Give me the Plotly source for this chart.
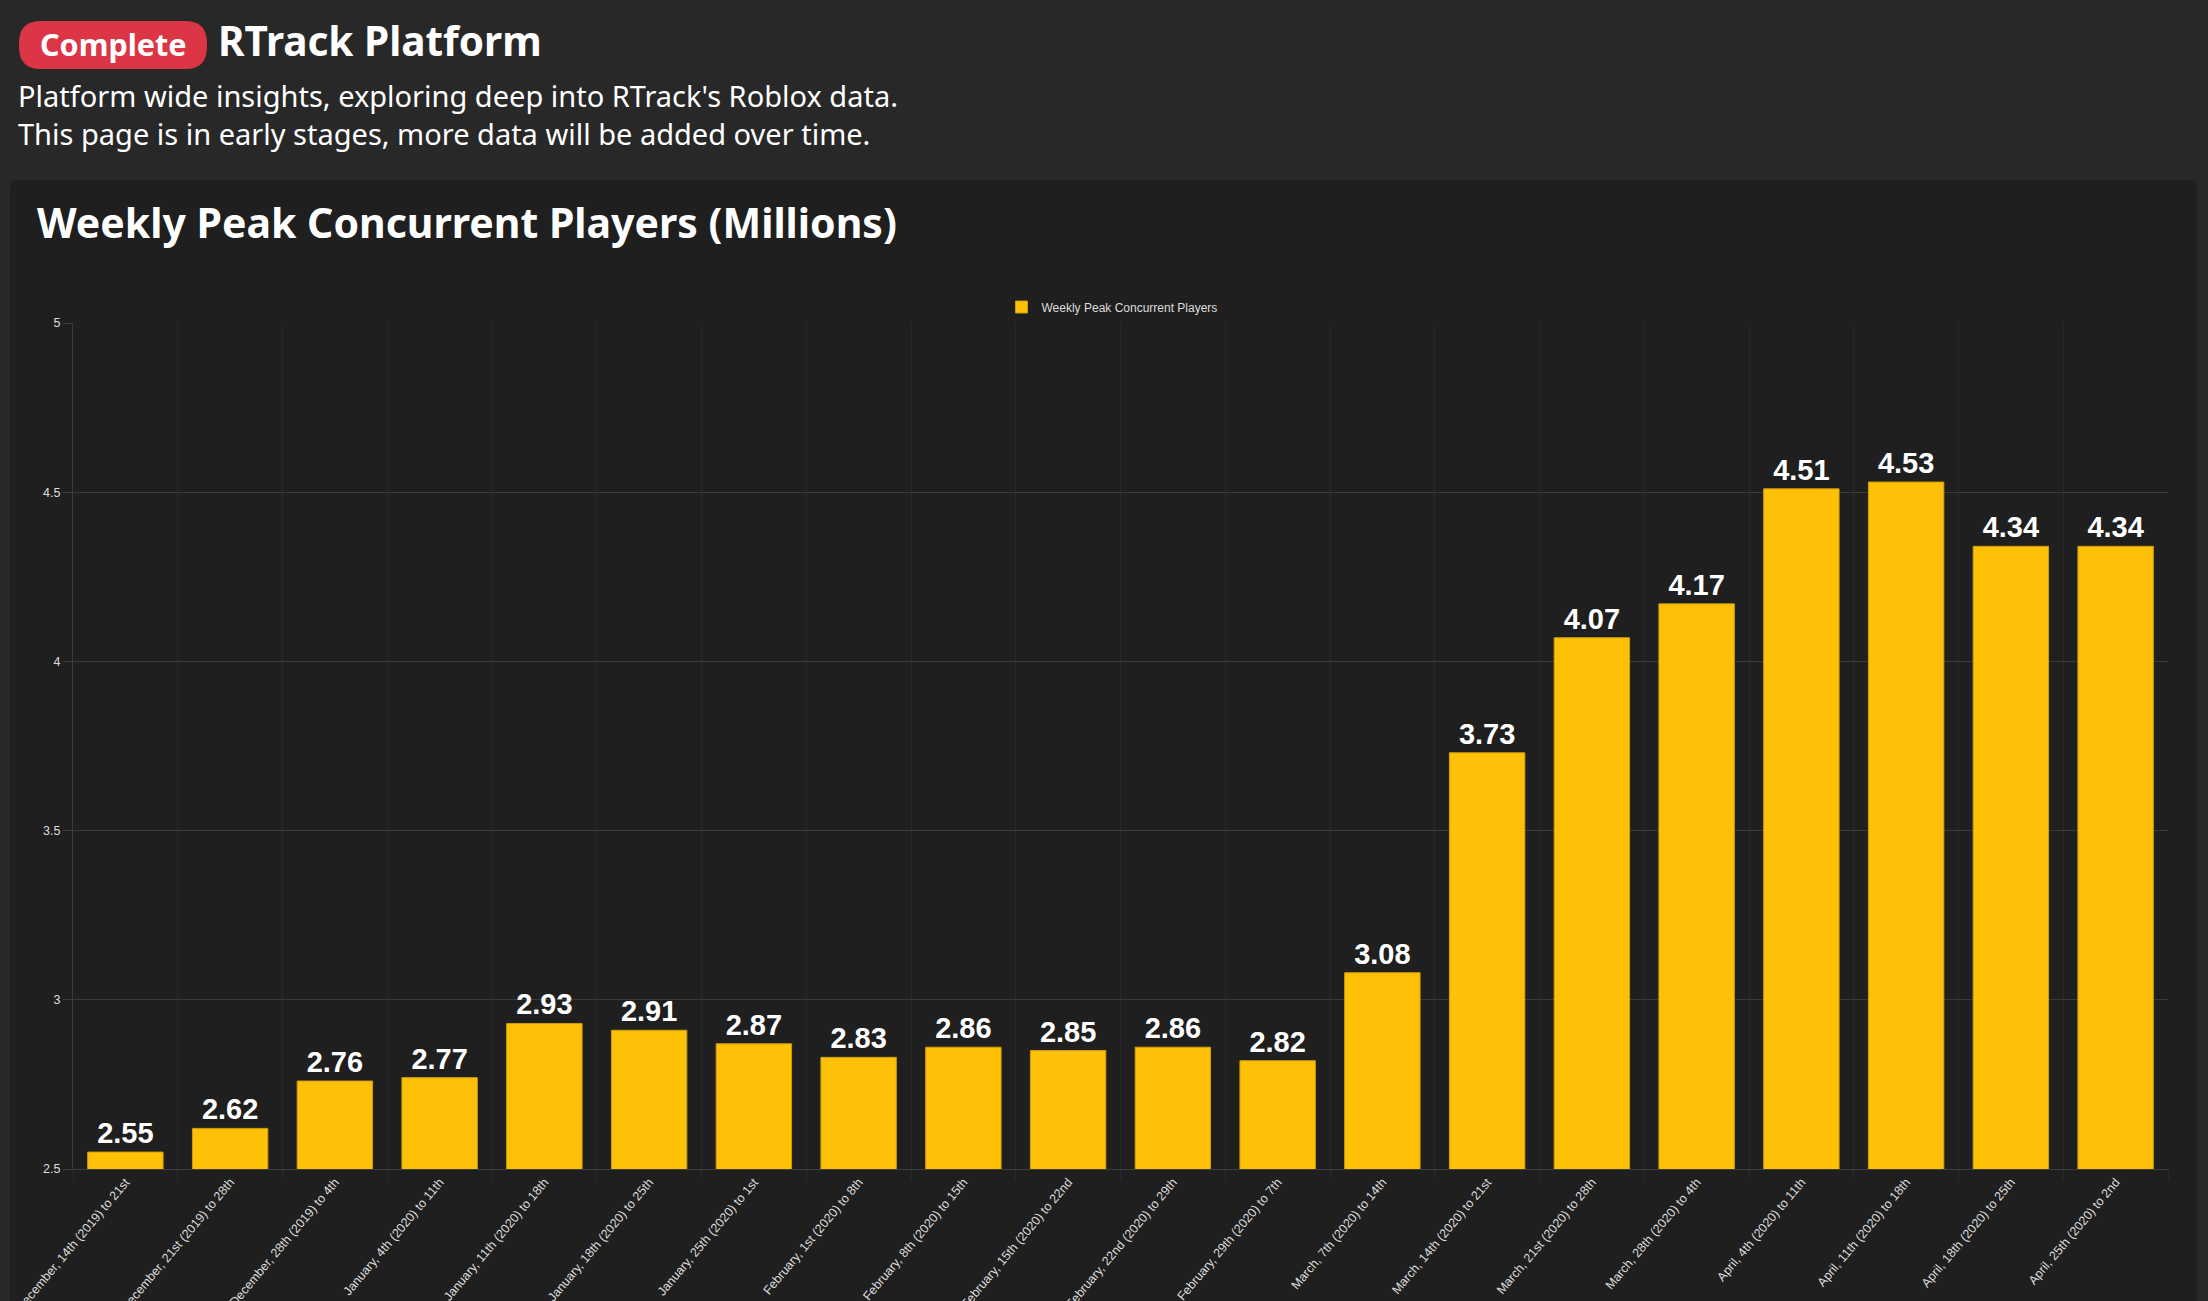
import plotly.graph_objects as go

# ---------------- data ----------------
weeks = [
    "December, 14th (2019) to 21st",
    "December, 21st (2019) to 28th",
    "December, 28th (2019) to 4th",
    "January, 4th (2020) to 11th",
    "January, 11th (2020) to 18th",
    "January, 18th (2020) to 25th",
    "January, 25th (2020) to 1st",
    "February, 1st (2020) to 8th",
    "February, 8th (2020) to 15th",
    "February, 15th (2020) to 22nd",
    "February, 22nd (2020) to 29th",
    "February, 29th (2020) to 7th",
    "March, 7th (2020) to 14th",
    "March, 14th (2020) to 21st",
    "March, 21st (2020) to 28th",
    "March, 28th (2020) to 4th",
    "April, 4th (2020) to 11th",
    "April, 11th (2020) to 18th",
    "April, 18th (2020) to 25th",
    "April, 25th (2020) to 2nd",
]
peak_players = [2.55, 2.62, 2.76, 2.77, 2.93, 2.91, 2.87, 2.83, 2.86, 2.85,
                2.86, 2.82, 3.08, 3.73, 4.07, 4.17, 4.51, 4.53, 4.34, 4.34]
series_name = "Weekly Peak Concurrent Players"
y_range = [2.5, 5]

# ---------------- layout geometry (pixels) ----------------
W, H = 2208, 1301
PL, PR, PT, PB = 73, 2168, 323, 1169
PW, PH = PR - PL, PB - PT


def px(x):
    return (x - PL) / PW


def py(y):
    return (PB - y) / PH


def rounded_rect(x0, y0, x1, y1, r):
    # path in paper coordinates from pixel box
    pts = [
        f"M {px(x0 + r)},{py(y0)}",
        f"L {px(x1 - r)},{py(y0)}",
        f"Q {px(x1)},{py(y0)} {px(x1)},{py(y0 + r)}",
        f"L {px(x1)},{py(y1 - r)}",
        f"Q {px(x1)},{py(y1)} {px(x1 - r)},{py(y1)}",
        f"L {px(x0 + r)},{py(y1)}",
        f"Q {px(x0)},{py(y1)} {px(x0)},{py(y1 - r)}",
        f"L {px(x0)},{py(y0 + r)}",
        f"Q {px(x0)},{py(y0)} {px(x0 + r)},{py(y0)}",
        "Z",
    ]
    return " ".join(pts)


PAGE_BG = "#282828"
CARD_BG = "#1f1f1f"
BAR = "#FFC107"
HEAD_FONT = "Noto Sans"
TICK_FONT = "Liberation Sans, Arial, sans-serif"

fig = go.Figure()
fig.add_trace(go.Bar(
    x=weeks,
    y=peak_players,
    name=series_name,
    width=0.72,
    marker=dict(color=BAR, line=dict(color="#cf9d0a", width=1)),
    text=[f"{v:.2f}" for v in peak_players],
    textposition="outside",
    constraintext="none",
    cliponaxis=False,
    outsidetextfont=dict(family=TICK_FONT, size=29, color="#ffffff", weight="bold"),
    showlegend=True,
))

shapes = [
    # card
    dict(type="path", xref="paper", yref="paper", layer="below",
         path=rounded_rect(10, 180, 2197, 1340, 7),
         fillcolor=CARD_BG, line=dict(width=0)),
    # badge
    dict(type="path", xref="paper", yref="paper", layer="below",
         path=rounded_rect(19, 21, 207, 69, 22),
         fillcolor="#dc3545", line=dict(width=0)),
]

annotations = [
    dict(text="<b>Complete</b>", x=px(113), y=py(44), xref="paper", yref="paper",
         xanchor="center", yanchor="middle", showarrow=False,
         font=dict(family=HEAD_FONT, size=30.5, color="#ffffff")),
    dict(text="<b>RTrack Platform</b>", x=px(216), y=py(40), xref="paper", yref="paper",
         xanchor="left", yanchor="middle", showarrow=False,
         font=dict(family=HEAD_FONT, size=40.5, color="#ffffff")),
    dict(text="Platform wide insights, exploring deep into RTrack's Roblox data.",
         x=px(16), y=py(96), xref="paper", yref="paper",
         xanchor="left", yanchor="middle", showarrow=False,
         font=dict(family=HEAD_FONT, size=29, color="#ffffff")),
    dict(text="This page is in early stages, more data will be added over time.",
         x=px(16), y=py(133), xref="paper", yref="paper",
         xanchor="left", yanchor="middle", showarrow=False,
         font=dict(family=HEAD_FONT, size=29, color="#ffffff")),
    dict(text="<b>Weekly Peak Concurrent Players (Millions)</b>",
         x=px(35), y=py(222), xref="paper", yref="paper",
         xanchor="left", yanchor="middle", showarrow=False,
         font=dict(family=HEAD_FONT, size=41, color="#ffffff")),
]

fig.update_layout(
    width=W, height=H,
    margin=dict(l=PL, r=W - PR, t=PT, b=H - PB, pad=0),
    paper_bgcolor=PAGE_BG,
    plot_bgcolor=CARD_BG,
    shapes=shapes,
    annotations=annotations,
    bargap=0.28,
    showlegend=True,
    legend=dict(orientation="h", x=px(1112), xanchor="center", y=py(307), yanchor="middle",
                font=dict(family=TICK_FONT, size=12, color="#dddddd"),
                bgcolor="rgba(0,0,0,0)", itemwidth=30),
    xaxis=dict(
        type="category",
        tickson="boundaries",
        showgrid=True, gridcolor="#272727", gridwidth=1,
        ticks="outside", ticklen=10, tickcolor="#2a2a2a",
        showline=True, linecolor="#3d3d3d", linewidth=1,
        tickangle=-50,
        tickfont=dict(family=TICK_FONT, size=12.5, color="#dddddd"),
        automargin=False,
    ),
    yaxis=dict(
        range=y_range, dtick=0.5,
        showgrid=True, gridcolor="#3a3a3a", gridwidth=1,
        zeroline=False,
        ticks="outside", ticklen=9, tickcolor="#3a3a3a",
        showline=True, linecolor="#3d3d3d", linewidth=1,
        tickfont=dict(family=TICK_FONT, size=12.5, color="#dddddd"),
        automargin=False,
    ),
    font=dict(family=TICK_FONT, color="#dddddd"),
)

fig.write_html(
    "out.html",
    config={"displayModeBar": False},
    post_script="document.body.style.margin='0';document.body.style.overflow='hidden';",
)
